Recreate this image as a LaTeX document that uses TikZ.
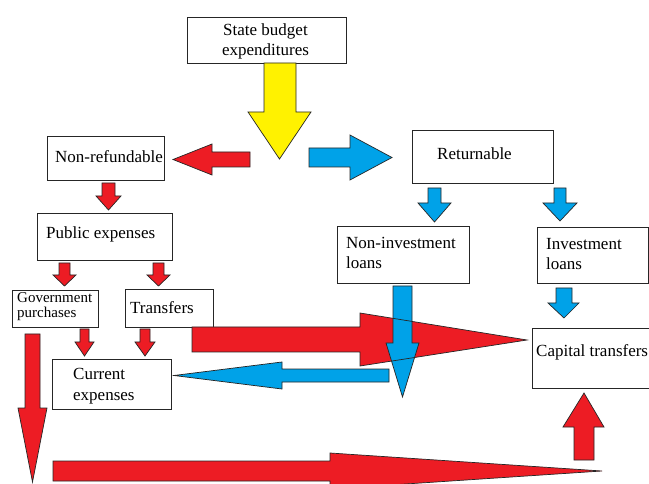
\documentclass[tikz,border=0pt]{standalone}
\usepackage{fontspec}
\setmainfont{Liberation Serif}
\definecolor{arrred}{HTML}{ED1C24}
\definecolor{arrblue}{HTML}{00A2E8}
\definecolor{arryel}{HTML}{FFF200}
\begin{document}
\begin{tikzpicture}[x=1pt,y=-1pt,
  box/.style={draw=black!85, line width=0.9pt, rectangle, inner sep=0pt},
  txt/.style={font=\fontsize{17}{20}\selectfont, inner sep=0pt, anchor=base west},
  stxt/.style={font=\fontsize{15}{17}\selectfont, inner sep=0pt, anchor=base west},
  redarr/.style={fill=arrred, draw=black!85, line width=0.7pt, line join=miter},
  bluearr/.style={fill=arrblue, draw=black!85, line width=0.7pt, line join=miter},
  yelarr/.style={fill=arryel, draw=black!85, line width=0.7pt, line join=miter}]
\useasboundingbox (0,0) rectangle (649,484);
\clip (0,0) rectangle (649,484);
\fill[white] (0,0) rectangle (649,484);

% boxes
\node[box, minimum width=159pt, minimum height=46pt] (sb)  at (266.5,40) {};
\node[box, minimum width=117pt, minimum height=44pt] (nr)  at (105.5,158) {};
\node[box, minimum width=141pt, minimum height=53pt] (ret) at (482.5,156.5) {};
\node[box, minimum width=135pt, minimum height=47pt] (pub) at (104.5,236.5) {};
\node[box, minimum width=132pt, minimum height=57pt] (niv) at (403,254.5) {};
\node[box, minimum width=111pt, minimum height=56pt] (inv) at (592.5,255) {};
\node[box, minimum width=86pt,  minimum height=37pt] (gov) at (55,308.5) {};
\node[box, minimum width=88pt,  minimum height=38pt] (tra) at (169,308) {};
\node[box, minimum width=119pt, minimum height=50pt] (cur) at (111.5,384) {};
\node[box, minimum width=123pt, minimum height=60pt] (cap) at (593.5,358) {};

% texts
\node[txt, anchor=base] (sbt1) at (265.5,36) {State budget};
\node[txt, anchor=base] (sbt2) at (265.5,56) {expenditures};
\node[txt] (nrt) at (55,163) {Non-refundable};
\node[txt] (rett) at (437,160) {Returnable};
\node[txt] (pubt) at (46,239) {Public expenses};
\node[txt] (nivt1) at (346,249) {Non-investment};
\node[txt] (nivt2) at (346,269) {loans};
\node[txt] (invt1) at (546,250) {Investment};
\node[txt] (invt2) at (546,270) {loans};
\node[stxt] (govt1) at (17,302) {Government};
\node[stxt] (govt2) at (17,318) {purchases};
\node[txt] (trat) at (130,313) {Transfers};
\node[txt] (curt1) at (73,380) {Current};
\node[txt] (curt2) at (73,400) {expenses};
\node[txt] (capt) at (536,356) {Capital transfers};

% yellow arrow
\draw[yelarr] (264,63)--(296,63)--(296,112)--(311,112)--(279.5,159)--(248,112)--(264,112)--cycle;
% red left to Non-refundable
\draw[redarr] (250,152)--(250,167)--(212,167)--(212,175)--(173,159.5)--(212,144)--(212,152)--cycle;
% blue right to Returnable
\draw[bluearr] (309,148)--(350,148)--(350,135)--(392,157.5)--(350,180)--(350,167)--(309,167)--cycle;
% red down nr -> pub
\draw[redarr] (102,183)--(115,183)--(115,196)--(121,196)--(108.5,210)--(96,196)--(102,196)--cycle;
% red down pub -> gov
\draw[redarr] (59,263)--(70,263)--(70,275)--(76,275)--(64.5,286)--(53,275)--(59,275)--cycle;
% red down pub -> tra
\draw[redarr] (153,263)--(164,263)--(164,275)--(170,275)--(158.5,286)--(147,275)--(153,275)--cycle;
% red down gov -> cur
\draw[redarr] (80,329)--(89,329)--(89,342)--(94,342)--(84.5,356)--(75,342)--(80,342)--cycle;
% red down tra -> cur
\draw[redarr] (140,329)--(150,329)--(150,342)--(155,342)--(145,356)--(135,342)--(140,342)--cycle;
% big red down left
\draw[redarr] (25,334)--(40,334)--(40,408)--(47,408)--(32.5,482)--(18,408)--(25,408)--cycle;
% bottom red right
\draw[redarr] (53,461)--(330,461)--(330,453)--(602,471)--(330,489)--(330,481)--(53,481)--cycle;
% red up to capital
\draw[redarr] (574,460)--(594,460)--(594,427)--(604,427)--(584,393)--(563,427)--(574,427)--cycle;
% big red right to capital
\fill[arrred] (192,327)--(360,327)--(360,313)--(527,340)--(360,366)--(360,352)--(192,352)--cycle;
% blue down from non-investment
\draw[bluearr] (393,286)--(412,286)--(412,343)--(419,343)--(402.5,397)--(386,343)--(393,343)--cycle;
\draw[black!85, line width=0.7pt, line join=miter] (192,327)--(360,327)--(360,313)--(527,340)--(360,366)--(360,352)--(192,352)--cycle;
% blue left to current
\draw[bluearr] (389,369)--(389,382)--(282,382)--(282,389)--(174,375.5)--(282,362)--(282,369)--cycle;
% blue downs from returnable
\draw[bluearr] (428,188)--(441,188)--(441,203)--(451,203)--(434.5,222)--(418,203)--(428,203)--cycle;
\draw[bluearr] (554,188)--(566,188)--(566,203)--(577,203)--(560,221)--(543,203)--(554,203)--cycle;
% blue down inv -> cap
\draw[bluearr] (556,288)--(572,288)--(572,303)--(579,303)--(564,318)--(548,303)--(556,303)--cycle;
\end{tikzpicture}
\end{document}
